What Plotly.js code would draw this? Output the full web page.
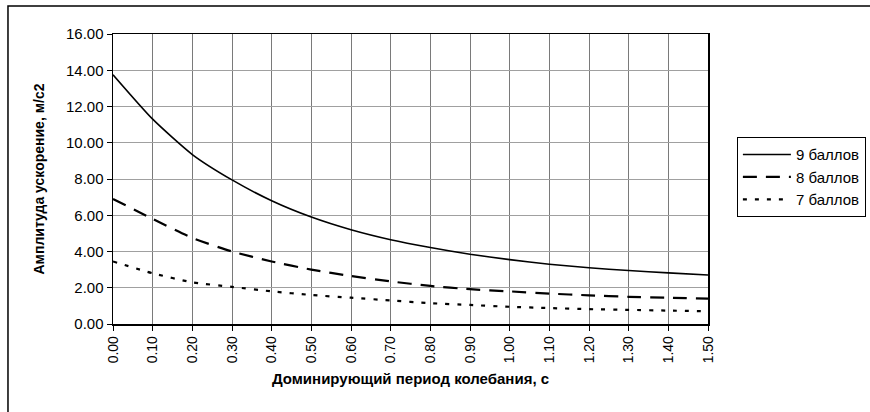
<!DOCTYPE html>
<html>
<head>
<meta charset="utf-8">
<script src="https://cdn.plot.ly/plotly-3.0.1.min.js"></script>
<style>
  html, body { margin: 0; padding: 0; background: #fff; }
  #chart { width: 870px; height: 412px; }
</style>
</head>
<body>
<div id="chart"></div>
<script>
// Data
var periods = [0.00, 0.10, 0.20, 0.30, 0.40, 0.50, 0.60, 0.70, 0.80, 0.90, 1.00, 1.10, 1.20, 1.30, 1.40, 1.50];
var points9 = [13.75, 11.30, 9.35, 7.95, 6.80, 5.90, 5.20, 4.65, 4.22, 3.85, 3.55, 3.30, 3.10, 2.95, 2.82, 2.70];
var points8 = [6.90, 5.80, 4.75, 4.00, 3.45, 3.00, 2.65, 2.35, 2.10, 1.92, 1.80, 1.68, 1.58, 1.50, 1.45, 1.40];
var points7 = [3.45, 2.80, 2.30, 2.05, 1.80, 1.60, 1.45, 1.30, 1.15, 1.05, 0.95, 0.88, 0.82, 0.78, 0.74, 0.70];
var seriesNames = ['9 баллов', '8 баллов', '7 баллов'];
var xTitle = 'Доминирующий период колебания, с';
var yTitle = 'Амплитуда ускорение, м/с2';

var font = 'Liberation Sans, Arial, sans-serif';

var traces = [
  {x: periods, y: points9, name: seriesNames[0], mode: 'lines',
   line: {color: '#000', width: 1.6, shape: 'spline', smoothing: 0.6}},
  {x: periods, y: points8, name: seriesNames[1], mode: 'lines',
   line: {color: '#000', width: 2.2, dash: '14px,9px', shape: 'spline', smoothing: 0.6}},
  {x: periods, y: points7, name: seriesNames[2], mode: 'lines',
   line: {color: '#000', width: 2.2, dash: '4px,8px', shape: 'spline', smoothing: 0.6}}
];

var layout = {
  width: 870, height: 412,
  margin: {l: 113, r: 162, t: 34, b: 88},
  paper_bgcolor: '#fff', plot_bgcolor: '#fff',
  font: {family: font, color: '#000', size: 15},
  showlegend: true,
  legend: {
    xref: 'container', yref: 'container',
    x: 0.847, xanchor: 'left', y: 0.667, yanchor: 'top',
    bordercolor: '#000', borderwidth: 1, bgcolor: '#fff',
    font: {family: font, size: 15, color: '#000'},
    itemwidth: 48, tracegroupgap: 0
  },
  xaxis: {
    range: [0, 1.5], dtick: 0.1, tick0: 0, tickformat: '.2f', tickangle: -90,
    showgrid: true, gridcolor: '#7a7a7a', gridwidth: 1,
    showline: true, linecolor: '#000', linewidth: 1.5, mirror: true,
    ticks: 'outside', ticklen: 5, tickcolor: '#000',
    tickfont: {family: font, size: 14, color: '#000'},
    zeroline: false,
    title: {text: xTitle, font: {family: font, size: 15, color: '#000', weight: 'bold'}, standoff: 11}
  },
  yaxis: {
    range: [0, 16], dtick: 2, tick0: 0, tickformat: '.2f',
    showgrid: true, gridcolor: '#a0a0a0', gridwidth: 1,
    showline: true, linecolor: '#000', linewidth: 1.5, mirror: true,
    ticks: 'outside', ticklen: 5, tickcolor: '#000',
    tickfont: {family: font, size: 15, color: '#000'},
    zeroline: false,
    title: {text: yTitle, font: {family: font, size: 14, color: '#000', weight: 'bold'}, standoff: 18}
  },
  shapes: [
    {type: 'rect', xref: 'paper', yref: 'paper',
     x0: -0.1765, x1: 2.0, y0: -0.6, y1: 1.0966,
     line: {color: '#000', width: 1.5}, fillcolor: 'rgba(0,0,0,0)', layer: 'below'}
  ]
};

Plotly.newPlot('chart', traces, layout, {displayModeBar: false, staticPlot: true});
</script>
</body>
</html>
